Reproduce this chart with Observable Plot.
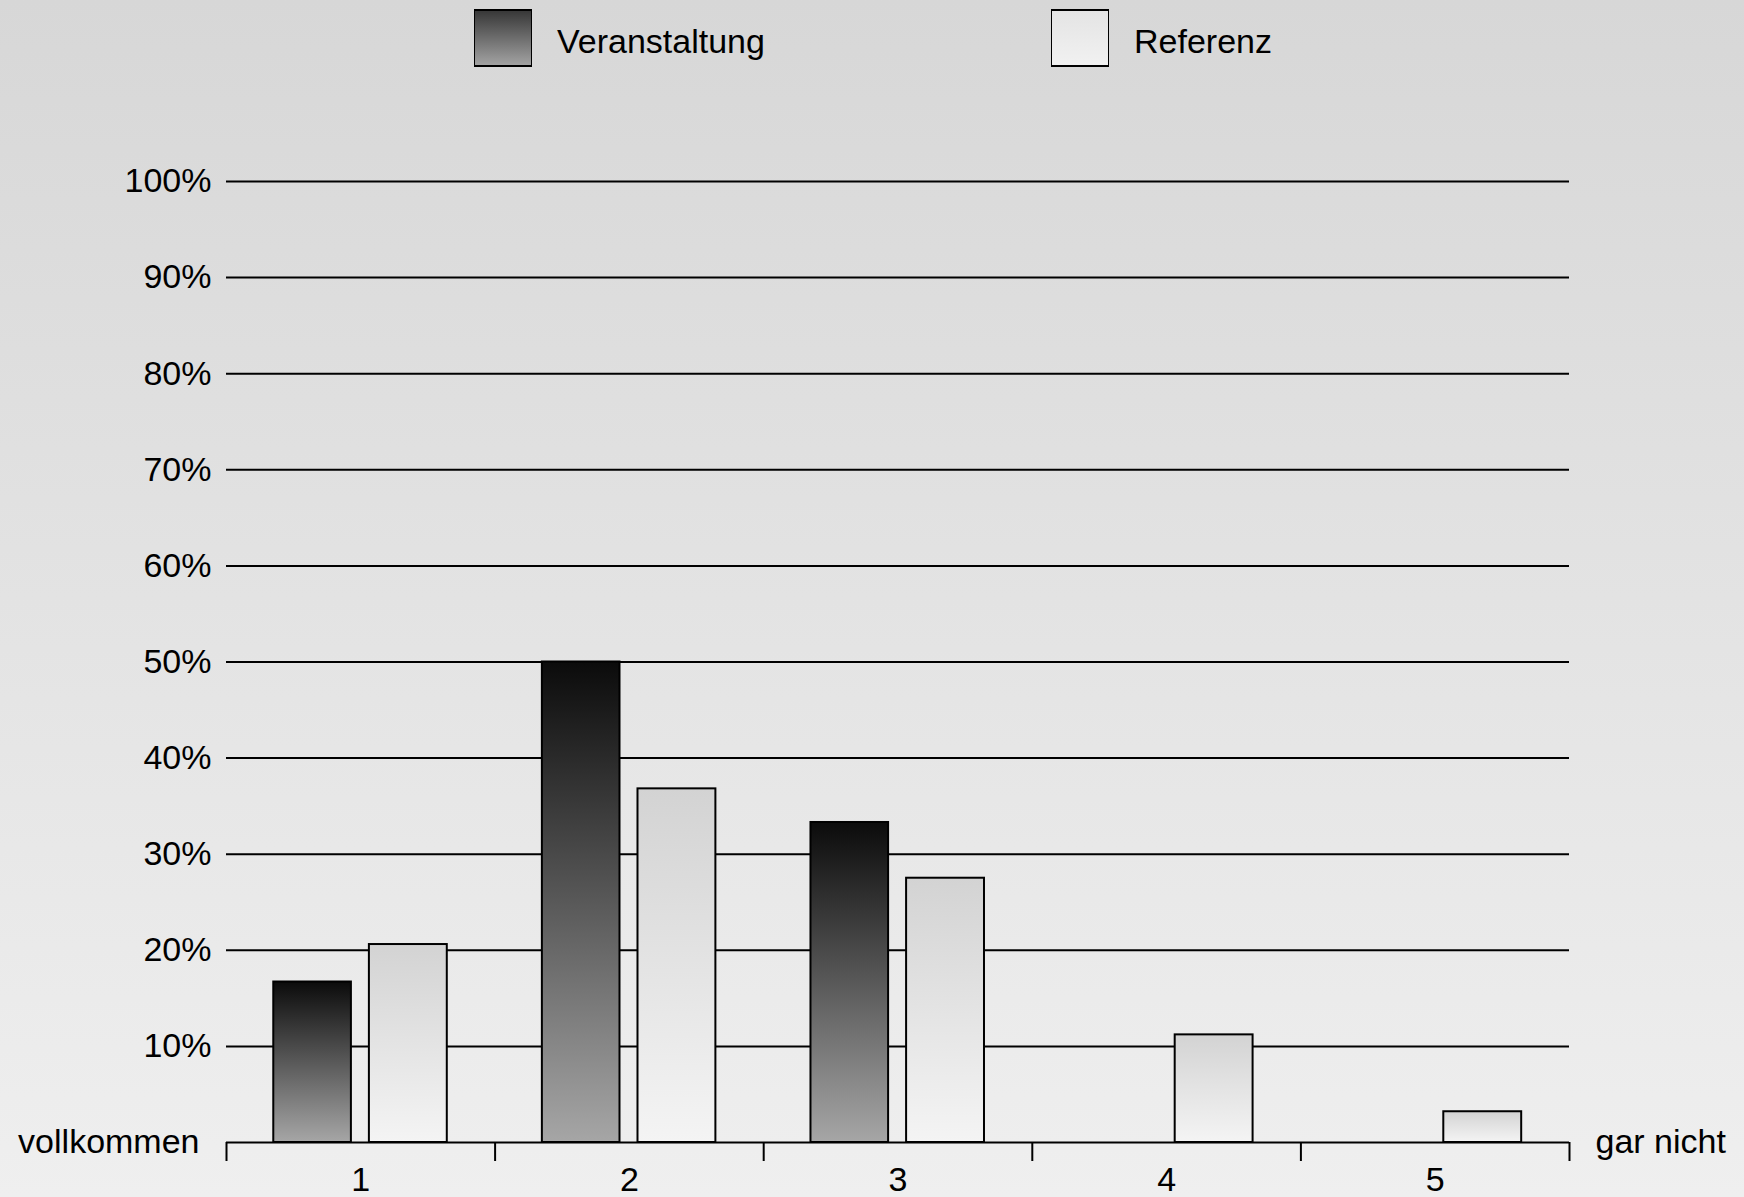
<!DOCTYPE html>
<html>
<head>
<meta charset="utf-8">
<script src="https://cdn.jsdelivr.net/npm/d3@7"></script>
<script src="https://cdn.jsdelivr.net/npm/@observablehq/plot@0.6"></script>
<style>
  html, body { margin: 0; padding: 0; }
  #chart {
    position: relative; width: 1744px; height: 1197px; overflow: hidden;
    background: linear-gradient(#d7d7d7, #efefef);
    font-family: "Liberation Sans", Arial, sans-serif;
  }
  #legend { position: relative; height: 90px; }
  .sw { position: absolute; top: 9px; width: 56px; height: 54px; border: 1px solid #000; border-top-width: 2px; border-bottom-width: 2px; }
  .lt { position: absolute; top: 21px; font-size: 34px; line-height: 40px; color: #000; white-space: nowrap; }
  #plot svg { display: block; }
</style>
</head>
<body>
<svg width="0" height="0" style="position:absolute">
  <defs>
    <linearGradient id="gDark" x1="0" y1="0" x2="0" y2="1">
      <stop offset="0" stop-color="#0b0b0b"/>
      <stop offset="1" stop-color="#a6a6a6"/>
    </linearGradient>
    <linearGradient id="gLight" x1="0" y1="0" x2="0" y2="1">
      <stop offset="0" stop-color="#d3d3d3"/>
      <stop offset="1" stop-color="#f4f4f4"/>
    </linearGradient>
  </defs>
</svg>
<div id="chart">
  <div id="legend"></div>
  <div id="plot"></div>
</div>
<script>
const categories = ["1", "2", "3", "4", "5"];
const veranstaltung = [16.7, 50.0, 33.3, 0, 0];
const referenz = [20.6, 36.8, 27.5, 11.2, 3.2];
const yTicks = [10, 20, 30, 40, 50, 60, 70, 80, 90, 100];
const seriesNames = ["Veranstaltung", "Referenz"];
const endLabels = ["vollkommen", "gar nicht"];

// legend
const legend = document.getElementById("legend");
legend.innerHTML = `
  <div class="sw" style="left:474px;background:linear-gradient(#383838,#a2a2a2)"></div>
  <div class="lt" style="left:557px">${seriesNames[0]}</div>
  <div class="sw" style="left:1051px;background:linear-gradient(#e4e4e4,#f1f1f1)"></div>
  <div class="lt" style="left:1134px">${seriesNames[1]}</div>`;

const dataV = categories.map((c, i) => ({cat: c, value: veranstaltung[i]}));
const dataR = categories.map((c, i) => ({cat: c, value: referenz[i]}));

const W = 1744, H = 1107, mL = 226, mR = 175, mT = 91, mB = 55;
const bw = (W - mL - mR) / categories.length;

const plot = Plot.plot({
  width: W, height: H,
  marginTop: mT, marginBottom: mB, marginLeft: mL, marginRight: mR,
  style: {background: "transparent", fontFamily: "'Liberation Sans', Arial, sans-serif", fontSize: "34px", color: "black"},
  x: {type: "band", domain: categories, padding: 0, round: false},
  y: {domain: [0, 100]},
  marks: [
    Plot.ruleY(yTicks, {stroke: "black", strokeWidth: 2}),
    Plot.barY(dataV, {x: "cat", y: "value", fill: "url(#gDark)", stroke: "black", strokeWidth: 2, insetLeft: bw * 0.176, insetRight: bw * 0.535}),
    Plot.barY(dataR, {x: "cat", y: "value", fill: "url(#gLight)", stroke: "black", strokeWidth: 2, insetLeft: bw * 0.532, insetRight: bw * 0.178}),
    Plot.ruleY([0], {stroke: "black", strokeWidth: 2}),
    Plot.ruleX(categories, {x: d => d, dx: -bw / 2, y1: () => 0, y2: () => 0, insetBottom: -19, stroke: "black", strokeWidth: 2}),
    Plot.ruleX([categories[categories.length - 1]], {x: d => d, dx: bw / 2, y1: () => 0, y2: () => 0, insetBottom: -19, stroke: "black", strokeWidth: 2}),
    Plot.axisX({tickSize: 0, tickPadding: 24, label: null, fontSize: 34}),
    Plot.axisY(yTicks, {tickSize: 0, tickPadding: 15, tickFormat: d => d + "%", label: null, fontSize: 34}),
    Plot.text([{label: endLabels[0], v: 0}], {y: "v", text: "label", frameAnchor: "left", textAnchor: "end", dx: -27, fontSize: 34, fill: "black"}),
    Plot.text([{label: endLabels[1], v: 0}], {y: "v", text: "label", frameAnchor: "right", textAnchor: "start", dx: 26, fontSize: 34, fill: "black"})
  ]
});
document.getElementById("plot").appendChild(plot);
</script>
</body>
</html>
